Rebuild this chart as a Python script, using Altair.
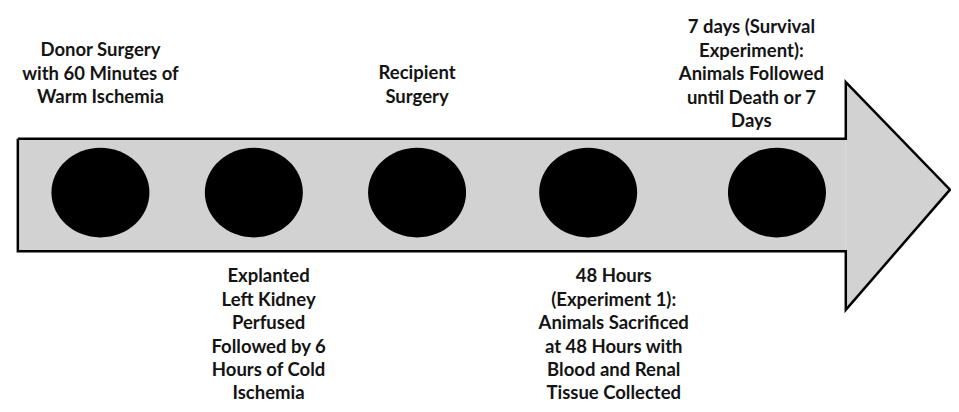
import altair as alt
import pandas as pd

# ---- data (reference pixel space, 959 x 412) ----
outline_x = [10, 852, 852, 958, 852, 852, 10, 10]
outline_y = [140, 140, 81, 193, 318, 257, 257, 140]

shaft_x = [10]
shaft_x2 = [852]
shaft_y = [140]
shaft_y2 = [257]

head_x = [852, 958]
head_y = [81, 193]
head_y2 = [318, 193]

circle_x = [94, 250, 416, 590, 782]
circle_y = [196, 196, 196, 196, 196]

top_x = [94, 416, 756]
top_first_y = [48, 72, 24]
top_labels = [
    ["Donor Surgery", "with 60 Minutes of", "Warm Ischemia"],
    ["Recipient", "Surgery"],
    ["7 days (Survival", "Experiment):", "Animals Followed", "until Death or 7", "Days"],
]
bottom_x = [265, 616]
bottom_first_y = [283, 283]
bottom_labels = [
    ["Explanted", "Left Kidney", "Perfused", "Followed by 6", "Hours of Cold", "Ischemia"],
    ["48 Hours", "(Experiment 1):", "Animals Sacrificed", "at 48 Hours with",
     "Blood and Renal", "Tissue Collected"],
]
line_gap = 24.4

# ---- build tables ----
outline = pd.DataFrame({"x": outline_x, "y": outline_y, "o": range(len(outline_x))})
shaft = pd.DataFrame({"x": shaft_x, "x2": shaft_x2, "y": shaft_y, "y2": shaft_y2})
head = pd.DataFrame({"x": head_x, "y": head_y, "y2": head_y2})
circles = pd.DataFrame({"x": circle_x, "y": circle_y})

rows = []
for cx, y0, lines in zip(top_x + bottom_x, top_first_y + bottom_first_y, top_labels + bottom_labels):
    for i, t in enumerate(lines):
        rows.append({"x": cx, "y": y0 + i * line_gap, "t": t})
texts = pd.DataFrame(rows)

xs = alt.Scale(domain=[0, 959], nice=False, zero=False)
ys = alt.Scale(domain=[4, 416], nice=False, zero=False, reverse=True)
X = lambda f="x": alt.X(f, type="quantitative", scale=xs, axis=None)
Y = lambda f="y": alt.Y(f, type="quantitative", scale=ys, axis=None)

FILL = "#d2d2d2"

shaft_l = alt.Chart(shaft).mark_rect(color=FILL).encode(
    x=X(), x2="x2", y=Y(), y2="y2")
head_l = alt.Chart(head).mark_area(color=FILL, opacity=1).encode(
    x=X(), y=Y(), y2="y2")
outline_l = alt.Chart(outline).mark_line(color="black", strokeWidth=2.5, strokeJoin="miter").encode(
    x=X(), y=Y(), order="o:Q")

ellipse = "M -1 0 A 1 0.915 0 1 0 1 0 A 1 0.915 0 1 0 -1 0 Z"
circles_l = alt.Chart(circles).mark_point(
    shape=ellipse, filled=True, color="black", opacity=1, size=98 * 98, strokeWidth=0
).encode(x=X(), y=Y())

text_l = alt.Chart(texts).mark_text(
    font="Lato", fontWeight="bold", fontSize=18.5, color="#141414",
    align="center", baseline="middle"
).encode(x=X(), y=Y(), text="t:N")

chart = alt.layer(shaft_l, head_l, outline_l, circles_l, text_l).properties(
    width=943, height=396, padding=0, autosize=alt.AutoSizeParams(type="none")
).configure_view(stroke=None)

chart.save("out.html", embed_options={"renderer": "svg", "actions": False})
